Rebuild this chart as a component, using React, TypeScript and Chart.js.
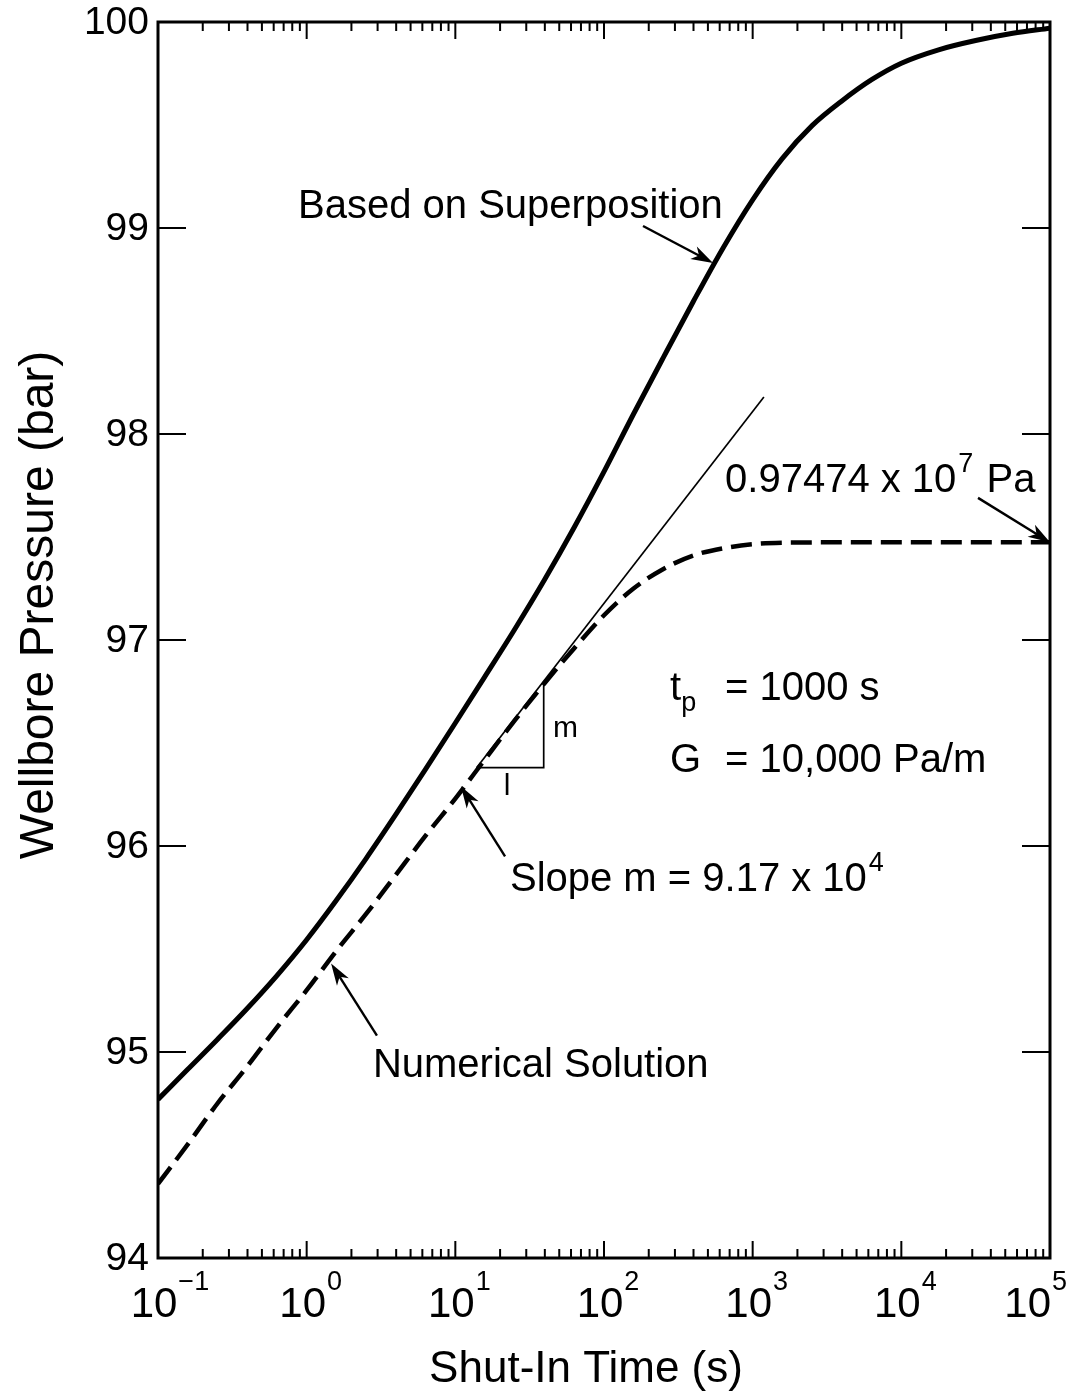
import React, { useEffect, useRef } from 'react';
import { Chart, registerables } from 'chart.js';

Chart.register(...registerables);

// ---------- data ----------
const superTime = [0.1, 0.158, 0.251, 0.398, 0.631, 1, 1.58, 2.51, 3.98, 6.31, 10, 15.8, 25.1, 39.8, 63.1, 100, 158, 251, 398, 631, 1000, 1580, 2510, 3980, 6310, 10000, 17800, 31600, 56200, 100000];
const superPressure = [94.77, 94.915, 95.061, 95.211, 95.371, 95.545, 95.735, 95.939, 96.153, 96.373, 96.597, 96.822, 97.052, 97.292, 97.547, 97.817, 98.097, 98.372, 98.642, 98.902, 99.137, 99.337, 99.497, 99.617, 99.72, 99.8, 99.865, 99.91, 99.945, 99.97];

const numTime = [0.1, 0.158, 0.251, 0.398, 0.631, 1, 1.58, 2.51, 3.98, 6.31, 10, 15.8, 25.1, 39.8, 63.1, 100, 158, 251, 398, 631, 1000, 1580, 3980, 100000];
const numPressure = [94.36, 94.55, 94.75, 94.93, 95.12, 95.3, 95.49, 95.67, 95.86, 96.05, 96.23, 96.42, 96.61, 96.79, 96.96, 97.12, 97.25, 97.345, 97.41, 97.445, 97.465, 97.472, 97.474, 97.474];

const tangentTime = [13.9, 1190];
const tangentPressure = [96.38, 98.18];

const triangleTime = [13.9, 39.3, 39.3];
const trianglePressure = [96.38, 96.38, 96.8];

const yTickValues = [94, 95, 96, 97, 98, 99, 100];
const yTickLabels = ['94', '95', '96', '97', '98', '99', '100'];
const xDecades = [0.1, 1, 10, 100, 1000, 10000, 100000];
const xTickExps = ['\u22121', '0', '1', '2', '3', '4', '5'];
const xMinorFactors = [2, 3, 4, 5, 6, 7, 8, 9];

const xTitle = 'Shut-In Time (s)';
const yTitle = 'Wellbore Pressure (bar)';

type Part = { text: string; sup?: boolean; sub?: boolean };
type Note = { parts: Part[]; t: number; p: number; size: number };

const notes: Note[] = [
  { parts: [{ text: 'Based on Superposition' }], t: 0.875, p: 99.05, size: 40 },
  { parts: [{ text: '0.97474 x 10' }, { text: '7', sup: true }, { text: ' Pa' }], t: 652, p: 97.72, size: 40 },
  { parts: [{ text: 't' }, { text: 'p', sub: true }], t: 278, p: 96.71, size: 40 },
  { parts: [{ text: '= 1000 s' }], t: 652, p: 96.71, size: 40 },
  { parts: [{ text: 'G' }], t: 278, p: 96.36, size: 40 },
  { parts: [{ text: '= 10,000 Pa/m' }], t: 652, p: 96.36, size: 40 },
  { parts: [{ text: 'm' }], t: 45.4, p: 96.53, size: 30 },
  { parts: [{ text: 'l' }], t: 21.2, p: 96.25, size: 30 },
  { parts: [{ text: 'Slope m = 9.17 x 10' }, { text: '4', sup: true }], t: 23.3, p: 95.78, size: 40 },
  { parts: [{ text: 'Numerical Solution' }], t: 2.79, p: 94.88, size: 40 },
];

const arrowFromT = [183, 32800, 21.6, 2.97];
const arrowFromP = [99.01, 97.69, 95.95, 95.08];
const arrowToT = [541, 100000, 10.9, 1.46];
const arrowToP = [98.83, 97.474, 96.29, 95.43];

const FONT = '"Liberation Sans", Arial, Helvetica, sans-serif';
const INK = '#000';

const toXY = (ts: number[], ps: number[]) => ts.map((t, i) => ({ x: t, y: ps[i] }));

const overlay = {
  id: 'overlay',
  beforeDraw(chart: any) {
    const ctx = chart.ctx;
    ctx.save();
    ctx.fillStyle = '#fff';
    ctx.fillRect(0, 0, chart.width, chart.height);
    ctx.restore();
  },
  afterDatasetsDraw(chart: any) {
    const ctx = chart.ctx as CanvasRenderingContext2D;
    const xs = chart.scales.x;
    const ys = chart.scales.y;
    const { left, right, top, bottom } = chart.chartArea;
    ctx.save();
    ctx.strokeStyle = INK;
    ctx.fillStyle = INK;

    // frame
    ctx.lineWidth = 3;
    ctx.strokeRect(left, top, right - left, bottom - top);

    // x ticks (inward, bottom and top)
    ctx.lineWidth = 2;
    xDecades.forEach((d, i) => {
      const px = xs.getPixelForValue(d);
      ctx.beginPath();
      ctx.moveTo(px, bottom);
      ctx.lineTo(px, bottom - 17);
      ctx.moveTo(px, top);
      ctx.lineTo(px, top + 17);
      ctx.stroke();
      if (i < xDecades.length - 1) {
        xMinorFactors.forEach((f) => {
          const mx = xs.getPixelForValue(d * f);
          ctx.beginPath();
          ctx.moveTo(mx, bottom);
          ctx.lineTo(mx, bottom - 9);
          ctx.moveTo(mx, top);
          ctx.lineTo(mx, top + 9);
          ctx.stroke();
        });
      }
    });

    // y ticks (inward, left and right)
    yTickValues.forEach((v) => {
      const py = ys.getPixelForValue(v);
      ctx.beginPath();
      ctx.moveTo(left, py);
      ctx.lineTo(left + 28, py);
      ctx.moveTo(right, py);
      ctx.lineTo(right - 28, py);
      ctx.stroke();
    });

    // y tick labels
    ctx.font = `39px ${FONT}`;
    ctx.textAlign = 'right';
    ctx.textBaseline = 'middle';
    yTickValues.forEach((v, i) => {
      ctx.fillText(yTickLabels[i], left - 9, ys.getPixelForValue(v) + 1);
    });

    // x tick labels: "10" with superscript exponent
    ctx.textBaseline = 'alphabetic';
    ctx.textAlign = 'left';
    xDecades.forEach((d, i) => {
      const px = xs.getPixelForValue(d);
      ctx.font = `42px ${FONT}`;
      const bw = ctx.measureText('10').width;
      ctx.font = `27px ${FONT}`;
      const sw = ctx.measureText(xTickExps[i]).width;
      let bx = px - bw / 2 - 4;
      if (bx + bw + 1 + sw > chart.width - 6) bx = chart.width - 6 - sw - 1 - bw;
      ctx.font = `42px ${FONT}`;
      ctx.fillText('10', bx, 1317);
      ctx.font = `27px ${FONT}`;
      ctx.fillText(xTickExps[i], bx + bw + 1, 1290);
    });

    // axis titles
    ctx.font = `44px ${FONT}`;
    ctx.textAlign = 'center';
    ctx.fillText(xTitle, 586, 1382);
    ctx.save();
    ctx.translate(53, 605);
    ctx.rotate(-Math.PI / 2);
    ctx.font = `48px ${FONT}`;
    ctx.fillText(yTitle, 0, 0);
    ctx.restore();

    // annotations
    ctx.textAlign = 'left';
    notes.forEach((n) => {
      let x = xs.getPixelForValue(n.t);
      const y = ys.getPixelForValue(n.p);
      n.parts.forEach((part) => {
        const size = part.sup || part.sub ? Math.round(n.size * 0.68) : n.size;
        ctx.font = `${size}px ${FONT}`;
        const dy = part.sup ? -n.size * 0.5 : part.sub ? n.size * 0.28 : 0;
        ctx.fillText(part.text, x + (part.sup ? 2 : 0), y + dy);
        x += ctx.measureText(part.text).width + (part.sup ? 4 : 0);
      });
    });

    // arrows
    arrowFromT.forEach((_, i) => {
      const x0 = xs.getPixelForValue(arrowFromT[i]);
      const y0 = ys.getPixelForValue(arrowFromP[i]);
      const x1 = xs.getPixelForValue(arrowToT[i]);
      const y1 = ys.getPixelForValue(arrowToP[i]);
      const ang = Math.atan2(y1 - y0, x1 - x0);
      const c = Math.cos(ang);
      const s = Math.sin(ang);
      const hl = 22;
      const hw = 7;
      ctx.lineWidth = 2.4;
      ctx.beginPath();
      ctx.moveTo(x0, y0);
      ctx.lineTo(x1 - c * hl * 0.7, y1 - s * hl * 0.7);
      ctx.stroke();
      ctx.beginPath();
      ctx.moveTo(x1, y1);
      ctx.lineTo(x1 - c * hl - s * hw, y1 - s * hl + c * hw);
      ctx.lineTo(x1 - c * hl * 0.72, y1 - s * hl * 0.72);
      ctx.lineTo(x1 - c * hl + s * hw, y1 - s * hl - c * hw);
      ctx.closePath();
      ctx.fill();
    });

    ctx.restore();
  },
};

export default function App() {
  const canvasRef = useRef<HTMLCanvasElement | null>(null);

  useEffect(() => {
    if (!canvasRef.current) return;
    const chart = new Chart(canvasRef.current, {
      type: 'line',
      data: {
        datasets: [
          {
            label: 'Based on Superposition',
            data: toXY(superTime, superPressure),
            borderColor: INK,
            borderWidth: 5,
            pointRadius: 0,
            cubicInterpolationMode: 'monotone',
            fill: false,
          },
          {
            label: 'Numerical Solution',
            data: toXY(numTime, numPressure),
            borderColor: INK,
            borderWidth: 4.5,
            borderDash: [21, 9],
            pointRadius: 0,
            cubicInterpolationMode: 'monotone',
            fill: false,
          },
          {
            label: 'Semilog straight line',
            data: toXY(tangentTime, tangentPressure),
            borderColor: INK,
            borderWidth: 1.7,
            pointRadius: 0,
            tension: 0,
            fill: false,
          },
          {
            label: 'Slope triangle',
            data: toXY(triangleTime, trianglePressure),
            borderColor: INK,
            borderWidth: 1.7,
            pointRadius: 0,
            tension: 0,
            fill: false,
          },
        ],
      } as any,
      options: {
        responsive: false,
        animation: false,
        events: [],
        layout: { padding: { left: 158, right: 23, top: 22, bottom: 139 } },
        plugins: { legend: { display: false }, tooltip: { enabled: false } },
        scales: {
          x: { type: 'logarithmic', min: 0.1, max: 100000, display: false },
          y: { type: 'linear', min: 94, max: 100, display: false },
        },
      } as any,
      plugins: [overlay],
    });
    return () => chart.destroy();
  }, []);

  return (
    <div style={{ position: 'absolute', left: 0, top: 0, width: 1073, height: 1397, background: '#fff' }}>
      <canvas ref={canvasRef} width={1073} height={1397} style={{ display: 'block' }} />
    </div>
  );
}
